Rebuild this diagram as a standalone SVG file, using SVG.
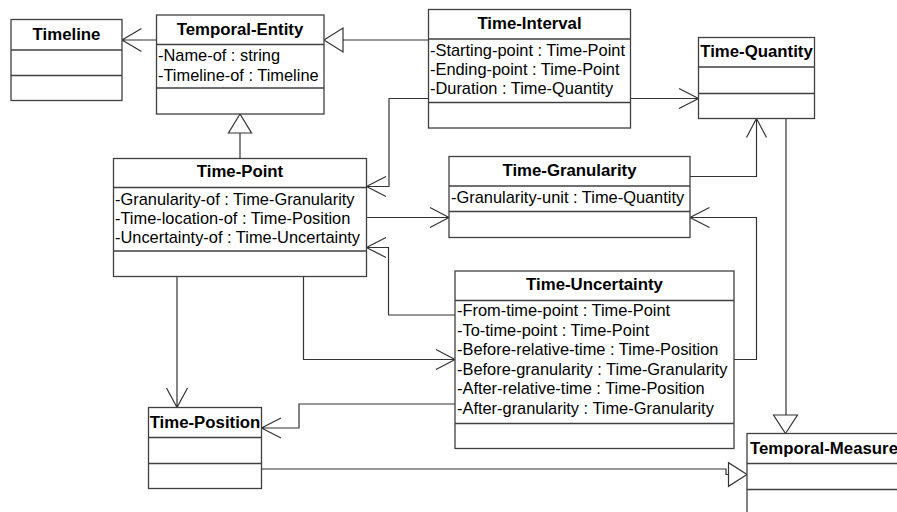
<svg xmlns="http://www.w3.org/2000/svg" width="897" height="512" viewBox="0 0 897 512">
  <style>
    .box { fill: #ffffff; stroke: #404040; stroke-width: 1.3; }
    .div { stroke: #404040; stroke-width: 1.3; }
    .title { font-family: "Liberation Sans", Arial, sans-serif; font-size: 16.8px; font-weight: bold; fill: #000; text-anchor: middle; }
    .attr { font-family: "Liberation Sans", Arial, sans-serif; font-size: 16.4px; fill: #000; }
    .wire { fill: none; stroke: #333333; stroke-width: 1.2; }
    .tri { fill: #ffffff; stroke: #333333; stroke-width: 1.2; }
  </style>
  <rect width="897" height="512" fill="#ffffff"/>

  <!-- connectors -->
  <g id="connectors">
    <!-- Temporal-Entity -> Timeline -->
    <path class="wire" d="M156.5 40 H122 M141.5 28.5 L122 40 L141.5 51.5"/>
    <!-- Time-Interval generalizes to Temporal-Entity -->
    <path class="wire" d="M428.5 40 H343"/>
    <polygon class="tri" points="324,40 343,28 343,52"/>
    <!-- Time-Point generalizes to Temporal-Entity -->
    <path class="wire" d="M240 158.5 V133"/>
    <polygon class="tri" points="240,114 228.5,133 251.5,133"/>
    <!-- Time-Interval -> Time-Point -->
    <path class="wire" d="M428.5 98.5 H389 V186.5 H366.5 M386 176.5 L366.5 186.5 L386 196.5"/>
    <!-- Time-Interval -> Time-Quantity -->
    <path class="wire" d="M630.5 98.5 H698.5 M679 88.5 L698.5 98.5 L679 108.5"/>
    <!-- Time-Point -> Time-Granularity -->
    <path class="wire" d="M366.5 217.5 H449 M430 207.5 L449 217.5 L430 227.5"/>
    <!-- Time-Granularity -> Time-Quantity -->
    <path class="wire" d="M690 176.5 H756.5 V118.5 M746.5 137.5 L756.5 118.5 L766.5 137.5"/>
    <!-- Time-Uncertainty -> Time-Granularity -->
    <path class="wire" d="M734 359.5 H756.5 V217.5 H690 M709.5 207.5 L690 217.5 L709.5 227.5"/>
    <!-- Time-Uncertainty -> Time-Point -->
    <path class="wire" d="M455 315 H388.5 V247.5 H366.5 M386 237.5 L366.5 247.5 L386 257.5"/>
    <!-- Time-Point -> Time-Uncertainty -->
    <path class="wire" d="M303.5 276.5 V359.5 H455 M436 349.5 L455 359.5 L436 369.5"/>
    <!-- Time-Point -> Time-Position -->
    <path class="wire" d="M177 276.5 V407.5 M166.5 388 L177 407.5 L187.5 388"/>
    <!-- Time-Uncertainty -> Time-Position -->
    <path class="wire" d="M455 404 H299 V428 H261.5 M281 418 L261.5 428 L281 438"/>
    <!-- Time-Position generalizes to Temporal-Measure -->
    <path class="wire" d="M261.5 469 H726 V474.5 H728.5"/>
    <polygon class="tri" points="747,474.5 728.5,462.7 728.5,486.3"/>
    <!-- Time-Quantity generalizes to Temporal-Measure -->
    <path class="wire" d="M786 118.5 V415"/>
    <polygon class="tri" points="785.5,433.5 773.5,415 797.5,415"/>
  </g>

  <!-- classes -->
  <g id="timeline">
    <rect class="box" x="11" y="19.5" width="111" height="81"/>
    <line class="div" x1="11" y1="50" x2="122" y2="50"/>
    <line class="div" x1="11" y1="75.5" x2="122" y2="75.5"/>
    <text class="title" x="66.5" y="40">Timeline</text>
  </g>

  <g id="temporal-entity">
    <rect class="box" x="156.5" y="15" width="167.5" height="99"/>
    <line class="div" x1="156.5" y1="44.5" x2="324" y2="44.5"/>
    <line class="div" x1="156.5" y1="88" x2="324" y2="88"/>
    <text class="title" x="240" y="34.5">Temporal-Entity</text>
    <text class="attr" x="158" y="61">-Name-of : string</text>
    <text class="attr" x="158" y="80.5">-Timeline-of : Timeline</text>
  </g>

  <g id="time-interval">
    <rect class="box" x="428.5" y="9.5" width="202" height="118.5"/>
    <line class="div" x1="428.5" y1="39" x2="630.5" y2="39"/>
    <line class="div" x1="428.5" y1="102.5" x2="630.5" y2="102.5"/>
    <text class="title" x="529.5" y="28.5">Time-Interval</text>
    <text class="attr" x="430" y="55.5">-Starting-point : Time-Point</text>
    <text class="attr" x="430" y="74.5">-Ending-point : Time-Point</text>
    <text class="attr" x="430" y="93.5">-Duration : Time-Quantity</text>
  </g>

  <g id="time-quantity">
    <rect class="box" x="698.5" y="37.5" width="116" height="81"/>
    <line class="div" x1="698.5" y1="67" x2="814.5" y2="67"/>
    <line class="div" x1="698.5" y1="93.5" x2="814.5" y2="93.5"/>
    <text class="title" x="756.5" y="56.5">Time-Quantity</text>
  </g>

  <g id="time-point">
    <rect class="box" x="113.5" y="158.5" width="253" height="118"/>
    <line class="div" x1="113.5" y1="187.5" x2="366.5" y2="187.5"/>
    <line class="div" x1="113.5" y1="251" x2="366.5" y2="251"/>
    <text class="title" x="240" y="177">Time-Point</text>
    <text class="attr" x="115" y="204.5">-Granularity-of : Time-Granularity</text>
    <text class="attr" x="115" y="223.5">-Time-location-of : Time-Position</text>
    <text class="attr" x="115" y="242.5">-Uncertainty-of : Time-Uncertainty</text>
  </g>

  <g id="time-granularity">
    <rect class="box" x="449" y="156.5" width="241" height="81"/>
    <line class="div" x1="449" y1="186" x2="690" y2="186"/>
    <line class="div" x1="449" y1="211.5" x2="690" y2="211.5"/>
    <text class="title" x="569.5" y="175.5">Time-Granularity</text>
    <text class="attr" x="451" y="203">-Granularity-unit : Time-Quantity</text>
  </g>

  <g id="time-uncertainty">
    <rect class="box" x="455" y="271" width="279" height="177.5"/>
    <line class="div" x1="455" y1="300.5" x2="734" y2="300.5"/>
    <line class="div" x1="455" y1="423.5" x2="734" y2="423.5"/>
    <text class="title" x="594.5" y="290">Time-Uncertainty</text>
    <text class="attr" x="457" y="316">-From-time-point : Time-Point</text>
    <text class="attr" x="457" y="335.6">-To-time-point : Time-Point</text>
    <text class="attr" x="457" y="355.2">-Before-relative-time : Time-Position</text>
    <text class="attr" x="457" y="374.8">-Before-granularity : Time-Granularity</text>
    <text class="attr" x="457" y="394.4">-After-relative-time : Time-Position</text>
    <text class="attr" x="457" y="414">-After-granularity : Time-Granularity</text>
  </g>

  <g id="time-position">
    <rect class="box" x="148.5" y="407.5" width="113" height="81"/>
    <line class="div" x1="148.5" y1="437.5" x2="261.5" y2="437.5"/>
    <line class="div" x1="148.5" y1="463.5" x2="261.5" y2="463.5"/>
    <text class="title" x="205" y="428">Time-Position</text>
  </g>

  <g id="temporal-measure">
    <rect class="box" x="747" y="433.5" width="180" height="100"/>
    <line class="div" x1="747" y1="463.5" x2="927" y2="463.5"/>
    <line class="div" x1="747" y1="489.5" x2="927" y2="489.5"/>
    <text class="title" x="750" y="454" style="text-anchor:start">Temporal-Measure</text>
  </g>
</svg>
